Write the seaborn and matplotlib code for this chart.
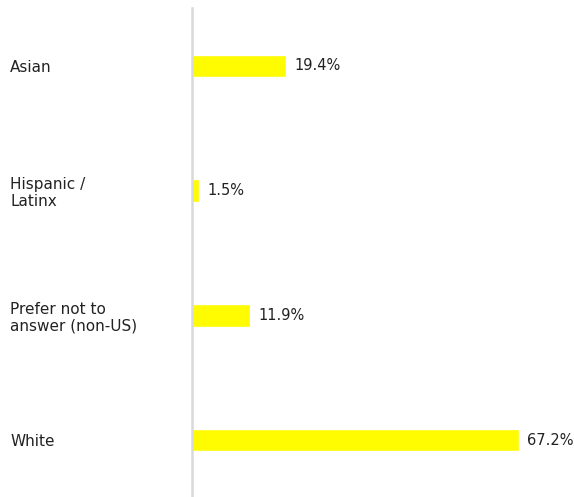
import pandas as pd
import matplotlib.pyplot as plt
import seaborn as sns

# data
groups = ["Asian", "Hispanic /\nLatinx", "Prefer not to\nanswer (non-US)", "White"]
shares = [19.4, 1.5, 11.9, 67.2]

df = pd.DataFrame({"group": groups, "share": shares})

sns.set_style("white")
plt.rcParams["font.family"] = ["DejaVu Sans"]

fig = plt.figure(figsize=(5.74, 4.97), dpi=100)
ax = fig.add_axes([0.3345, 0.0, 0.6655, 0.984])

sns.barplot(data=df, x="share", y="group", orient="h", color="#fffb00",
            width=0.18, saturation=1, ax=ax)

for c in ax.containers:
    ax.bar_label(c, labels=[f"{v:.1f}%" for v in shares], padding=6,
                 fontsize=10.5, color="#222222")

ax.set_xlim(0, 78.5)
ax.set_ylim(3.457, -0.465)
ax.set_xlabel("")
ax.set_ylabel("")
ax.set_xticks([])

ax.tick_params(axis="y", length=0, pad=131, labelsize=11, labelcolor="#222222")
for lab in ax.get_yticklabels():
    lab.set_ha("left")
    lab.set_linespacing(1.15)

for s in ["top", "right", "bottom"]:
    ax.spines[s].set_visible(False)
ax.spines["left"].set_color("#d9d9d9")
ax.spines["left"].set_linewidth(1.8)

fig.savefig("out.png", dpi=100)
